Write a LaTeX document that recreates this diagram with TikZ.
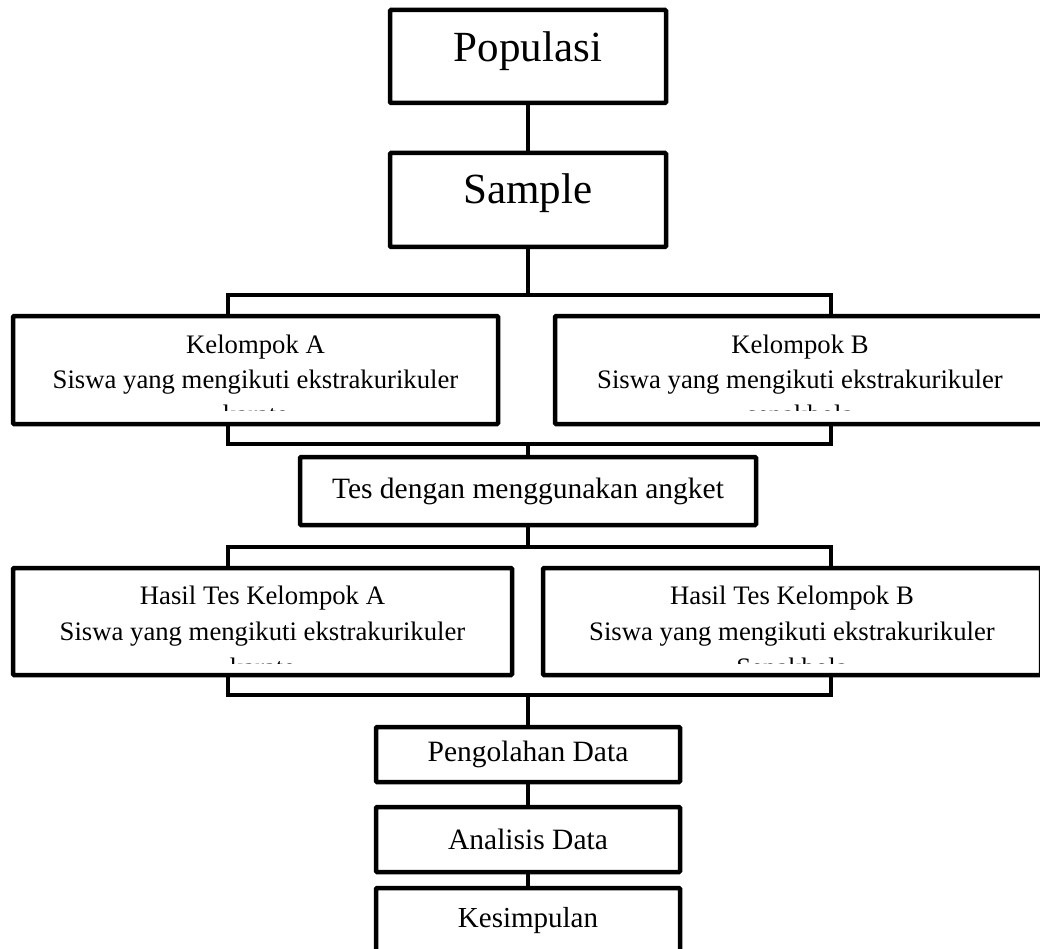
\documentclass[tikz,border=0pt]{standalone}
\usepackage{fontspec}
\setmainfont{Liberation Serif}
\begin{document}
\begin{tikzpicture}[x=1pt,y=-1pt,
  box/.style={draw=black, fill=white, line width=4.5pt, rounded corners=1pt, inner sep=0pt},
  link/.style={draw=black, line width=4pt},
  big/.style={font=\fontsize{43}{48}\selectfont, anchor=base, inner sep=0pt},
  mid/.style={font=\fontsize{29.5}{34}\selectfont},
  txt/.style={font=\fontsize{26.7}{32}\selectfont, anchor=base, inner sep=0pt}]
\useasboundingbox (0,0) rectangle (1040,949);
\clip (0,0) rectangle (1040,949);

% bracket coordinates
\coordinate (k1) at (228,295);
\coordinate (k2) at (831,444);
\coordinate (h1) at (228,547);
\coordinate (h2) at (831,695);

\draw[link] (k1) rectangle (k2);
\draw[link] (h1) rectangle (h2);

% top boxes
\node[box, minimum width=276pt, minimum height=93pt] (pop) at (528,56.5) {};
\node[big] (popt) at (528,62) {Populasi};
\node[box, minimum width=276pt, minimum height=94pt] (sam) at (528,200) {};
\node[big] (samt) at (528,204) {Sample};
\draw[link] (pop.south) -- (sam.north);
\draw[link] (sam.south) -- (sam.south |- k1);

% Kelompok A / B
\node[box, minimum width=485pt, minimum height=108pt] (ka) at (255.5,370) {};
\node[box, minimum width=490pt, minimum height=108pt] (kb) at (800,370) {};
\begin{scope}
  \clip (13,318) rectangle (498,410.5);
  \node[txt] (ka1) at (255.5,353) {Kelompok A};
  \node[txt] (ka2) at (255.5,388) {Siswa yang mengikuti ekstrakurikuler};
  \node[txt] (ka3) at (255.5,423) {karate};
\end{scope}
\begin{scope}
  \clip (555,318) rectangle (1045,410.5);
  \node[txt] (kb1) at (800,353) {Kelompok B};
  \node[txt] (kb2) at (800,388) {Siswa yang mengikuti ekstrakurikuler};
  \node[txt] (kb3) at (800,423) {sepakbola};
\end{scope}

% Tes
\node[box, mid, minimum width=456pt, minimum height=68pt] (tes) at (528,491) {Tes dengan menggunakan angket};
\draw[link] (tes.north) -- (tes.north |- k2);
\draw[link] (tes.south) -- (tes.south |- h1);

% Hasil A / B
\node[box, minimum width=499pt, minimum height=107pt] (ha) at (262.5,621.5) {};
\node[box, minimum width=498pt, minimum height=107pt] (hb) at (792,621.5) {};
\begin{scope}
  \clip (13,570) rectangle (512,663);
  \node[txt] (ha1) at (262.5,604) {Hasil Tes Kelompok A};
  \node[txt] (ha2) at (262.5,640) {Siswa yang mengikuti ekstrakurikuler};
  \node[txt] (ha3) at (262.5,676) {karate};
\end{scope}
\begin{scope}
  \clip (543,570) rectangle (1041,663);
  \node[txt] (hb1) at (792,604) {Hasil Tes Kelompok B};
  \node[txt] (hb2) at (792,640) {Siswa yang mengikuti ekstrakurikuler};
  \node[txt] (hb3) at (792,676) {Sepakbola};
\end{scope}

% bottom chain
\node[box, mid, minimum width=304pt, minimum height=55pt] (peng) at (528,754.5) {Pengolahan Data};
\node[box, mid, minimum width=304pt, minimum height=65pt] (ana) at (528,839.5) {Analisis Data};
\node[box, minimum width=304pt, minimum height=90pt] (kes) at (528,933) {};
\node[anchor=base, inner sep=0pt, font=\fontsize{29}{34}\selectfont] (kes1) at (528,927) {Kesimpulan};
\draw[link] (peng.north) -- (peng.north |- h2);
\draw[link] (peng.south) -- (ana.north);
\draw[link] (ana.south) -- (kes.north);
\end{tikzpicture}
\end{document}
